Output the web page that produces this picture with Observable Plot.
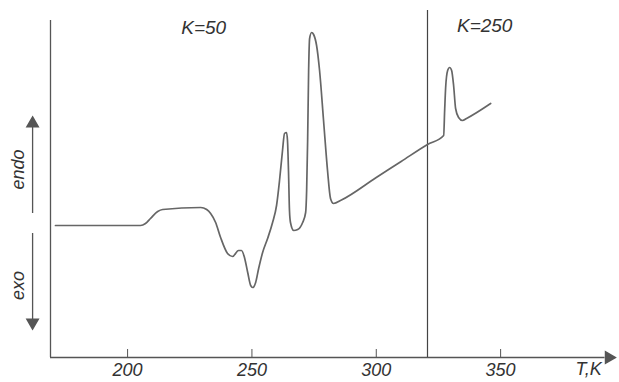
<!DOCTYPE html>
<html>
<head>
<meta charset="utf-8">
<script src="https://cdn.jsdelivr.net/npm/d3@7"></script>
<script src="https://cdn.jsdelivr.net/npm/@observablehq/plot@0.6"></script>
<style>
  html, body { margin: 0; padding: 0; background: #fff; }
  #chart svg { display: block; }
</style>
</head>
<body>
<div id="chart"></div>
<script>
// DTA curve: temperature (K) vs. signal (arbitrary units, endo up)
const temperature = [171.0, 205.2, 207.2, 209.2, 212.1, 214.1, 229.4, 231.8, 233.4, 235.4, 237.4, 240.2, 242.2, 244.6, 245.8, 247.0, 248.3, 249.5, 250.3, 251.5, 252.7, 254.3, 256.3, 258.3, 259.9, 261.1, 262.3, 263.1, 263.9, 264.3, 264.7, 265.1, 265.5, 266.8, 268.4, 270.4, 271.6, 272.0, 272.4, 272.8, 273.2, 274.0, 274.8, 276.0, 277.2, 278.8, 280.4, 281.6, 282.8, 286.0, 300.0, 310.0, 320.6, 327.1, 327.5, 327.9, 328.7, 329.5, 330.3, 331.1, 331.9, 333.1, 334.7, 336.3, 346.0];
const signal = [132, 132, 134, 139, 146, 148, 150, 148, 144, 135, 120, 104, 101, 107, 107, 100, 85, 72, 70, 75, 89, 105, 119, 135, 152, 177, 207, 224, 225, 217, 187, 147, 135, 127, 128, 135, 145, 167, 217, 287, 319, 325, 323, 312, 287, 237, 187, 159, 154, 157.5, 180, 196, 213, 222, 247, 270, 287, 290, 287, 272, 249, 240, 237, 239, 254];
const xTicks = [200, 250, 300, 350];
const rateChangeT = [320.6];
const rateLabels = ["K=50", "K=250"];
const rateLabelT = [230.6, 343.6];
const rateLabelV = [330, 332];
const sideLabels = ["endo", "exo"];
const xAxisLabel = "T,K";

const data = temperature.map((t, i) => ({t, v: signal[i]}));
const ink = "#555";
const xMin = 169, xMax = 396.2;
const font = "'Liberation Sans', Arial, sans-serif";

const chart = Plot.plot({
  width: 619,
  height: 382,
  marginLeft: 50,
  marginRight: 4,
  marginTop: 10,
  marginBottom: 25,
  x: {domain: [xMin, xMax], axis: null},
  y: {domain: [0, 347], axis: null},
  style: {background: "#fff", fontFamily: font},
  marks: [
    // axes
    Plot.ruleY([0], {x1: xMin, x2: 392, stroke: ink, strokeWidth: 1.3}),
    Plot.dot([{x: 393.5, y: 0}], {x: "x", y: "y", symbol: "triangle", rotate: 90, r: 4.2, fill: ink, stroke: ink}),
    Plot.ruleX([xMin], {y1: 0, y2: 337, stroke: ink, strokeWidth: 1.3}),
    Plot.ruleX(xTicks, {y1: 0, y2: 8, stroke: ink, strokeWidth: 1}),
    Plot.text(xTicks, {x: d => d, y: 0, dy: 13, text: d => String(d), fontSize: 18, fontStyle: "italic", fill: "#333", fontFamily: font}),
    Plot.text([xAxisLabel], {x: 385.4, y: 0, dy: 12, text: d => d, fontSize: 18, fontStyle: "italic", fill: "#333", fontFamily: font}),
    // heating-rate change line
    Plot.ruleX(rateChangeT, {y1: 0, y2: 347, stroke: "#444", strokeWidth: 1.2}),
    Plot.text(rateLabels, {x: (d, i) => rateLabelT[i], y: (d, i) => rateLabelV[i], text: d => d, fontSize: 19, fontStyle: "italic", fill: "#333", fontFamily: font}),
    // endo / exo arrows
    Plot.ruleX([161.8], {y1: 144, y2: 234, stroke: ink, strokeWidth: 1.3}),
    Plot.dot([{x: 161.8, y: 234}], {x: "x", y: "y", symbol: "triangle", r: 4.2, fill: ink, stroke: ink}),
    Plot.ruleX([161.8], {y1: 124, y2: 35, stroke: ink, strokeWidth: 1.3}),
    Plot.dot([{x: 161.8, y: 35}], {x: "x", y: "y", symbol: "triangle", rotate: 180, r: 4.2, fill: ink, stroke: ink}),
    Plot.text(sideLabels, {x: 156.2, y: (d, i) => [188, 72][i], text: d => d, rotate: -90, fontSize: 18, fontStyle: "italic", fill: "#333", fontFamily: font}),
    // DTA curve
    Plot.line(data, {x: "t", y: "v", curve: "monotone-x", stroke: "#666", strokeWidth: 1.7})
  ]
});
document.getElementById("chart").append(chart);
</script>
</body>
</html>
